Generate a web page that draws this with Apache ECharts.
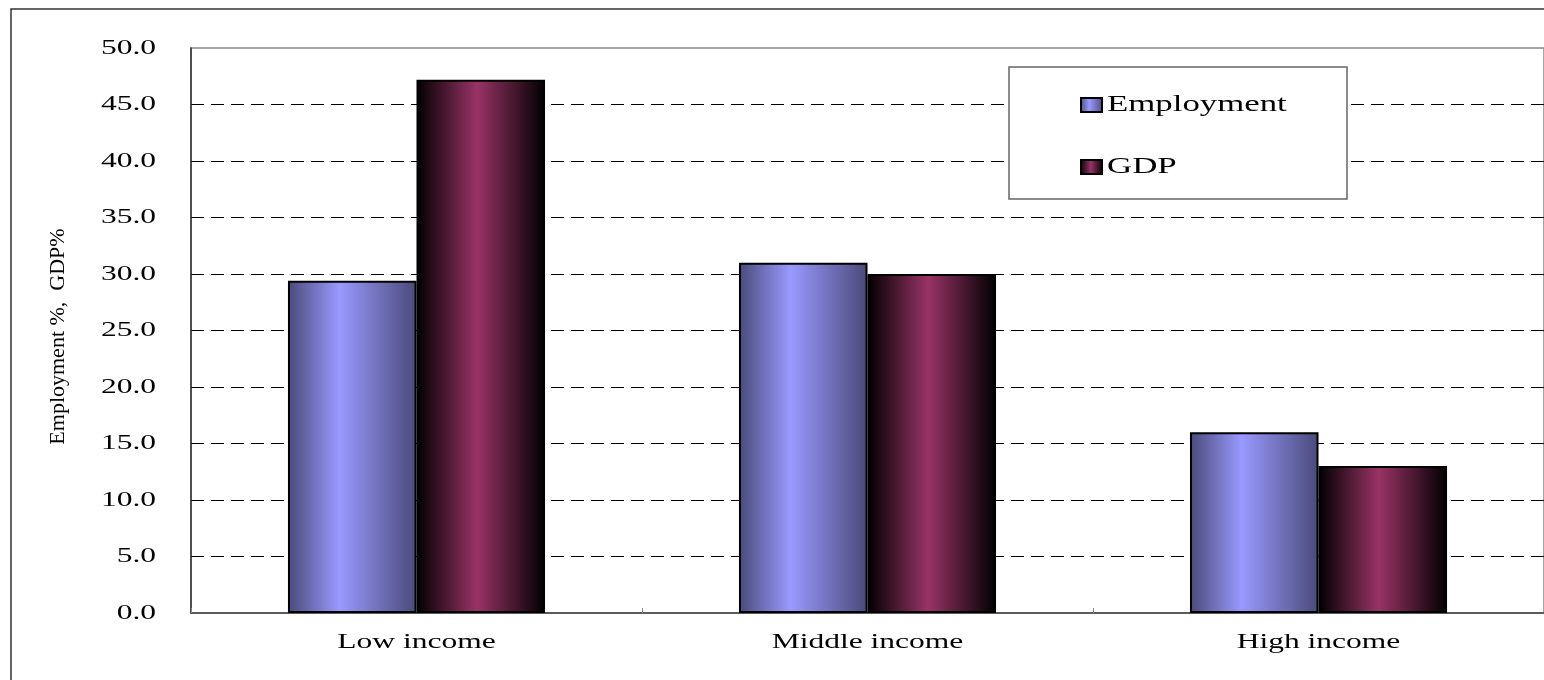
<!DOCTYPE html>
<html>
<head>
<meta charset="utf-8">
<script src="https://cdn.jsdelivr.net/npm/echarts@6/dist/echarts.min.js"></script>
<style>html,body{margin:0;padding:0;background:#fff}#c{width:1544px;height:680px}</style>
</head>
<body>
<div id="c"></div>
<script>
const categories = ['Low income', 'Middle income', 'High income'];
const employment = [29.4, 31.0, 16.0];
const gdp = [47.2, 30.0, 13.0];
const seriesNames = ['Employment', 'GDP'];
const yAxisTitle = 'Employment %,  GDP%';

// The reference text is drawn horizontally widened; widen real text glyphs about their anchor.
(function () {
  const P = CanvasRenderingContext2D.prototype;
  const origFill = P.fillText;
  P.fillText = function (t, x, y, mw) {
    const m = /(\d+(?:\.\d+)?)px/.exec(this.font || '');
    const size = m ? +m[1] : 0;
    const sx = size === 21 ? 1.5 : size === 24 ? 1.45 : 1;
    if (sx === 1) return origFill.apply(this, arguments);
    this.save();
    this.translate(x, y);
    this.scale(sx, 1);
    origFill.call(this, t, 0, 0);
    this.restore();
  };
})();

const serif = '"Liberation Serif", "DejaVu Serif", serif';
function grad(edge, mid, pos) {
  return new echarts.graphic.LinearGradient(0, 0, 1, 0, [
    {offset: 0, color: edge}, {offset: pos, color: mid}, {offset: 1, color: edge}
  ]);
}
const chart = echarts.init(document.getElementById('c'), null, {renderer: 'canvas'});
chart.setOption({
  animation: false,
  backgroundColor: '#fff',
  graphic: [
    {type: 'rect', shape: {x: 11, y: 9, width: 1700, height: 800}, style: {fill: 'none', stroke: '#333', lineWidth: 1.5}, z: -10},
    {type: 'rect', shape: {x: 1009, y: 67, width: 338, height: 132}, style: {fill: '#fff', stroke: '#666', lineWidth: 1.5}, z: 5}
  ],
  grid: {left: 191, right: -3, top: 48, bottom: 67, show: true, borderColor: '#888', borderWidth: 1.5, backgroundColor: '#fff'},
  legend: {
    orient: 'vertical', left: 1075, top: 88, itemGap: 38, itemWidth: 21, itemHeight: 14, icon: 'rect',
    textStyle: {fontFamily: serif, fontSize: 24, color: '#000'}, z: 10,
    data: seriesNames
  },
  xAxis: {
    type: 'category', data: categories,
    axisLine: {lineStyle: {color: '#444', width: 1.5}},
    axisTick: {show: true, inside: true, length: 5, lineStyle: {color: '#888'}},
    axisLabel: {fontFamily: serif, fontSize: 21, color: '#000', margin: 19}
  },
  yAxis: {
    type: 'value', min: 0, max: 50, interval: 5,
    name: yAxisTitle, nameLocation: 'middle', nameGap: 122,
    nameTextStyle: {fontFamily: serif, fontSize: 22, color: '#000', padding: [0, 12, 0, 0]},
    axisLine: {show: true, lineStyle: {color: '#333', width: 1.5}},
    axisTick: {show: false},
    axisLabel: {fontFamily: serif, fontSize: 21, color: '#000', margin: 35, formatter: v => v.toFixed(1)},
    splitLine: {show: true, showMaxLine: false, showMinLine: false, lineStyle: {color: '#000', type: [13, 7], width: 1}}
  },
  series: [
    {name: seriesNames[0], type: 'bar', data: employment, barGap: '0%', barCategoryGap: '43%',
     itemStyle: {color: grad('#4a4a7a', '#9999ff', 0.4), borderColor: '#000', borderWidth: 2}},
    {name: seriesNames[1], type: 'bar', data: gdp,
     itemStyle: {color: grad('#000000', '#993366', 0.47), borderColor: '#000', borderWidth: 2}}
  ]
});
</script>
</body>
</html>
